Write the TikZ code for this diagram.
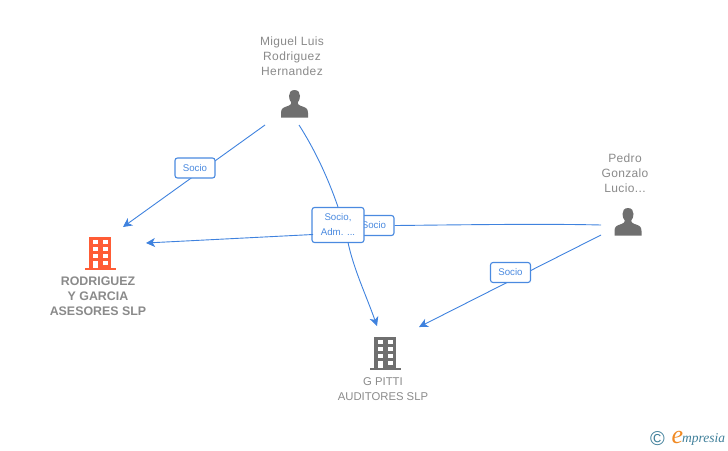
\documentclass[tikz,border=0pt]{standalone}
\usepackage{fontspec}
\setmainfont{Liberation Sans}
\newfontfamily\logofont{Liberation Serif}
\usetikzlibrary{arrows.meta}
\definecolor{edgeblue}{HTML}{3F82DE}
\definecolor{lblue}{HTML}{4A8AE0}
\definecolor{greytxt}{HTML}{8A8A8A}
\definecolor{icongrey}{HTML}{6F6F6F}
\definecolor{orangeb}{HTML}{FF5C35}
\definecolor{logoteal}{HTML}{3F7F9A}
\definecolor{logoorange}{HTML}{F08A24}
\tikzset{
  x=1pt,y=-1pt,
  edge/.style={draw=edgeblue,line width=0.9pt},
  arrowedge/.style={edge,-{Stealth[length=9pt,width=9pt,inset=2.5pt]}},
  lab/.style={draw=lblue,line width=1.1pt,rounded corners=2.5pt,fill=white,text=lblue,font=\fontsize{9.7}{15}\selectfont,align=center,inner sep=0pt},
  pname/.style={text=greytxt,font=\fontsize{12}{15.2}\selectfont\addfontfeature{LetterSpace=3},align=center,inner sep=0pt},
  gname/.style={text=greytxt,font=\fontsize{11.3}{15.2}\selectfont,align=center,inner sep=0pt},
  cname/.style={text=greytxt,font=\fontsize{12.4}{15.2}\selectfont\bfseries,align=center,inner sep=0pt},
  pics/person/.style={code={
    \fill[icongrey] (0,-10) .. controls (-4,-10) and (-5.5,-7) .. (-5.5,-4) .. controls (-5.5,-1) and (-4.5,1) .. (-3.2,2.5) .. controls (-3.2,4) and (-4,5) .. (-6,5.8) .. controls (-11,7.5) and (-13.5,8) .. (-13.5,13) -- (-13.5,17.5) -- (13.5,17.5) -- (13.5,13) .. controls (13.5,8) and (11,7.5) .. (6,5.8) .. controls (4,5) and (3.2,4) .. (3.2,2.5) .. controls (4.5,1) and (5.5,-1) .. (5.5,-4) .. controls (5.5,-7) and (4,-10) .. (0,-10) -- cycle;
  }},
  pics/building/.style={code={
    \fill[#1] (-11,-16.5) rectangle (11,14.5);
    \fill[#1] (-15.5,14.5) rectangle (15.5,17);
    \foreach \yy in {-13,-6,0.5}{
      \fill[white] (-7,\yy) rectangle (-2.5,\yy+4.3);
      \fill[white] (3,\yy) rectangle (8,\yy+4.3);
    }
    \fill[white] (-7,7.5) rectangle (-2.5,14.5);
    \fill[white] (3,7.5) rectangle (8,11.8);
  }}
}
\begin{document}
\begin{tikzpicture}
\useasboundingbox (0,0) rectangle (728,450);
% anchors of the connectors
\coordinate (m1) at (265,125);
\coordinate (m2) at (299,125);
\coordinate (p1) at (601,225);
\coordinate (p2) at (601,235);
\coordinate (r1) at (123,227);
\coordinate (r2) at (146,243);
\coordinate (g1) at (377,326);
\coordinate (g2) at (419,327);
\coordinate (s2l) at (313,234.5);
\coordinate (s2b) at (348,242.5);
% people and companies
\pic at (294.5,100) {person};
\pic at (628,218) {person};
\pic at (100,253) {building=orangeb};
\pic at (385,353) {building=icongrey};
\node[pname] (miguel) at (292,56.5) {Miguel Luis\\Rodriguez\\Hernandez};
\node[pname] (pedro) at (625,173.5) {Pedro\\Gonzalo\\Lucio...};
\node[cname] (rodriguez) at (98,296.5) {RODRIGUEZ\\Y GARCIA\\ASESORES SLP};
\node[gname] (gpitti) at (383,389) {G PITTI\\AUDITORES SLP};
% connectors that run under their labels
\draw[arrowedge] (m1) -- (r1);
\draw[arrowedge] (p2) -- (g2);
% labels
\node[lab,minimum width=40pt,minimum height=20pt] (s1) at (195,168) {Socio};
\node[lab,minimum width=40pt,minimum height=20pt] (s4) at (510.5,272.5) {Socio};
\node[lab,minimum width=40pt,minimum height=20pt] (s3) at (374,225.5) {Socio};
\draw[edge] (p1) .. controls (540,223.5) and (450,225) .. (s3.east);
\node[lab,minimum width=52pt,minimum height=35pt] (s2) at (338,225) {Socio,\\Adm. ...};
\draw[arrowedge] (s2l) -- (r2);
\draw[edge] (m2) .. controls (315,150) and (328,178) .. (s2.north);
\draw[arrowedge] (s2b) .. controls (354,270) and (366,295) .. (g1);
% logo
\node[inner sep=0pt,text=logoteal,font=\fontsize{20}{20}\selectfont] (copy) at (657.5,438.5) {©};
\node[inner sep=0pt,text=logoorange,font=\logofont\itshape\fontsize{26}{26}\selectfont] (elogo) at (677.5,437.5) {e};
\node[inner sep=0pt,text=logoteal,anchor=west,font=\logofont\itshape\fontsize{13.5}{14}\selectfont] (mpresia) at (682,439.5) {mpresia};
\end{tikzpicture}
\end{document}
